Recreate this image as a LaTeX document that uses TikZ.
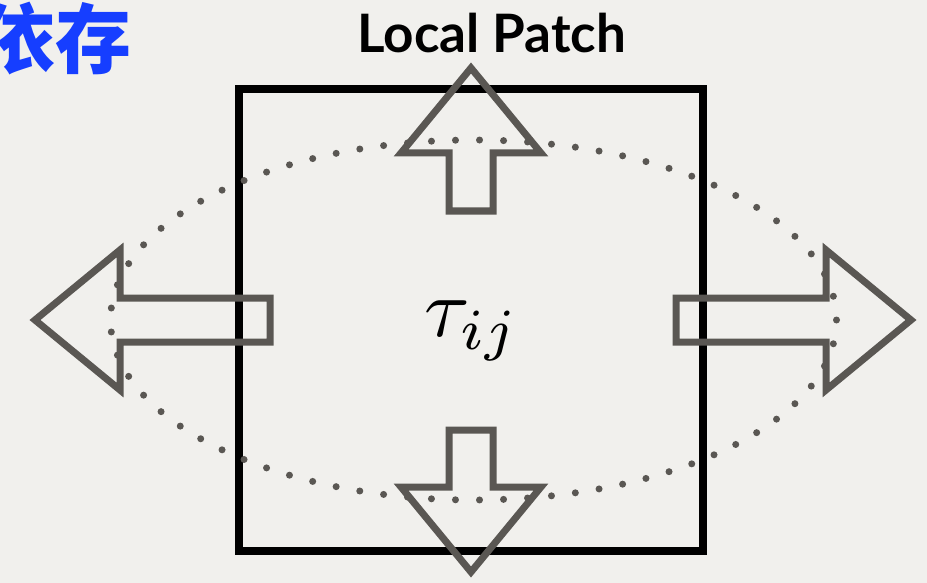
\documentclass[tikz,border=0pt]{standalone}
\usepackage{fontspec}
\setmainfont{Lato}
\newfontfamily\cjk{Noto Sans CJK SC}
\usetikzlibrary{positioning}
\definecolor{FondoGris}{RGB}{241,240,237}
\definecolor{FlechaGris}{RGB}{90,87,83}
\definecolor{AzulTitulo}{RGB}{22,62,255}
\tikzset{
  patchbox/.style={draw=black, line width=7.5pt, minimum width=464pt,
    minimum height=462pt, inner sep=0pt},
  flowarrow/.style={draw=FlechaGris, line width=7pt, line join=miter},
  dotring/.style={draw=FlechaGris, line width=7pt, line cap=round,
    dash pattern=on 0pt off 24.04pt},
  titlelabel/.style={font=\bfseries\fontsize{53}{60}\selectfont, inner sep=0pt},
  cjklabel/.style={text=AzulTitulo, font=\cjk\bfseries\fontsize{76}{80}\selectfont,
    inner sep=0pt},
}
% flecha hueca: angulo, inicio del asta, base de la punta
\newcommand\patcharrow[3]{%
  \draw[flowarrow, shift={(patch.center)}, rotate=#1]
    (#2,22) -- (#3,22) -- (#3,70) -- ({#3+85},0) -- (#3,-70) -- (#3,-22)
    -- (#2,-22) -- cycle;}

\begin{document}
\begin{tikzpicture}[x=1pt, y=-1pt]
  \useasboundingbox (0,0) rectangle (927,583);
  \fill[FondoGris] (0,0) rectangle (927,583);
  \node[cjklabel, anchor=base west] (dependencia) at (-21,68) {依存};
  \node[patchbox] (patch) at (471,320) {};
  \node[scale=8.3, inner sep=0pt] (tau) at (472,331) {$\tau_{ij}$};
  \node[titlelabel, anchor=base] (titulo) at (492,53) {Local Patch};
  \draw[dotring] ([xshift=2.5pt]patch.center) ellipse [x radius=363, y radius=180];
  \patcharrow{0}{205}{355}
  \patcharrow{180}{201}{351}
  \patcharrow{90}{109}{167}
  \patcharrow{270}{110}{167}
\end{tikzpicture}
\end{document}
